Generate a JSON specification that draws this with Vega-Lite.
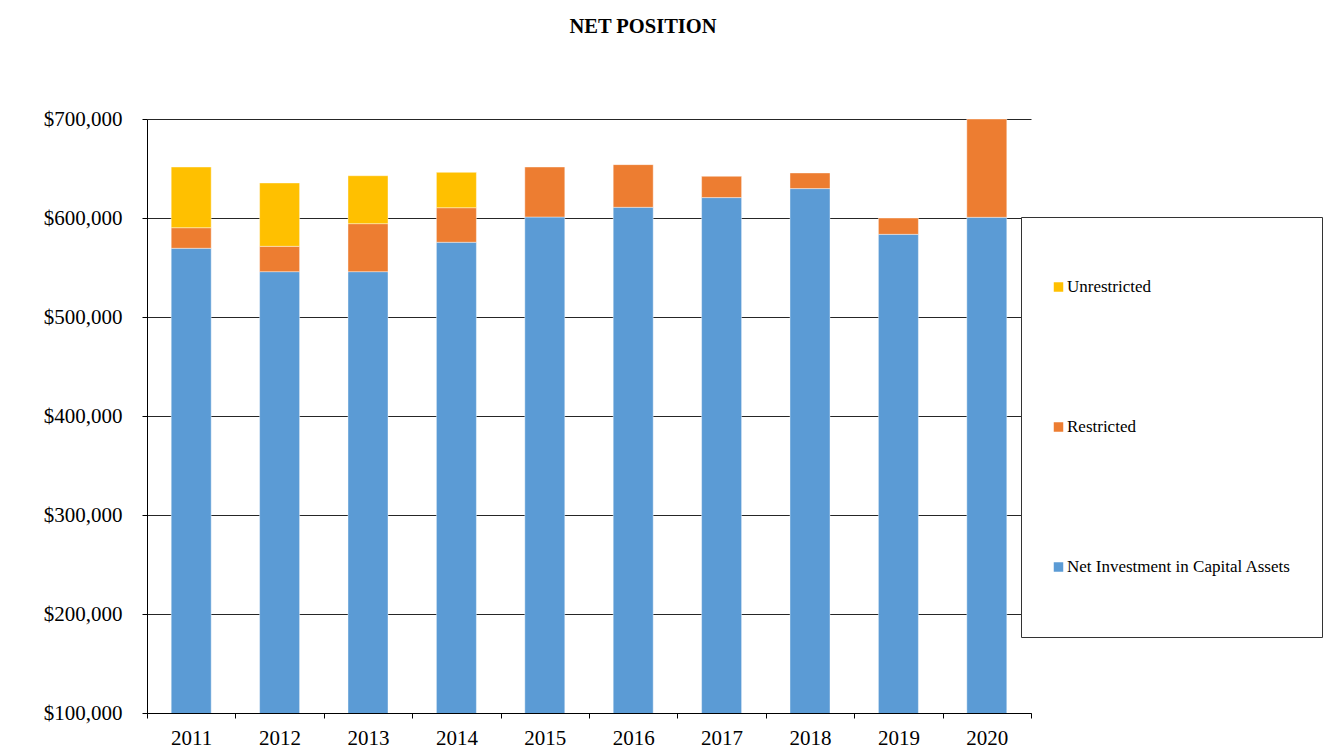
{
  "$schema": "https://vega.github.io/schema/vega-lite/v6.json",
  "width": 884,
  "height": 594,
  "autosize": {"type": "none"},
  "padding": {"left": 147, "top": 119, "right": 295, "bottom": 37},
  "background": "white",
  "title": {
    "text": "NET POSITION",
    "font": "Liberation Serif",
    "fontSize": 20.5,
    "fontWeight": "bold",
    "color": "black",
    "anchor": "middle",
    "frame": "group",
    "baseline": "middle",
    "offset": 61,
    "dx": 54
  },
  "data": {
    "values": [
      {"year": "2011", "category": "Net Investment in Capital Assets", "value": 569400},
      {"year": "2011", "category": "Restricted", "value": 20800},
      {"year": "2011", "category": "Unrestricted", "value": 61300},
      {"year": "2012", "category": "Net Investment in Capital Assets", "value": 545800},
      {"year": "2012", "category": "Restricted", "value": 25600},
      {"year": "2012", "category": "Unrestricted", "value": 64000},
      {"year": "2013", "category": "Net Investment in Capital Assets", "value": 545800},
      {"year": "2013", "category": "Restricted", "value": 48500},
      {"year": "2013", "category": "Unrestricted", "value": 48400},
      {"year": "2014", "category": "Net Investment in Capital Assets", "value": 575500},
      {"year": "2014", "category": "Restricted", "value": 34900},
      {"year": "2014", "category": "Unrestricted", "value": 35700},
      {"year": "2015", "category": "Net Investment in Capital Assets", "value": 601000},
      {"year": "2015", "category": "Restricted", "value": 50500},
      {"year": "2016", "category": "Net Investment in Capital Assets", "value": 610800},
      {"year": "2016", "category": "Restricted", "value": 43100},
      {"year": "2017", "category": "Net Investment in Capital Assets", "value": 620600},
      {"year": "2017", "category": "Restricted", "value": 21500},
      {"year": "2018", "category": "Net Investment in Capital Assets", "value": 629700},
      {"year": "2018", "category": "Restricted", "value": 15800},
      {"year": "2019", "category": "Net Investment in Capital Assets", "value": 583500},
      {"year": "2019", "category": "Restricted", "value": 16500},
      {"year": "2020", "category": "Net Investment in Capital Assets", "value": 600700},
      {"year": "2020", "category": "Restricted", "value": 99300}
    ]
  },
  "mark": {"type": "bar", "clip": true, "width": {"band": 0.4525}, "stroke": "white", "strokeWidth": 0.6, "strokeOpacity": 0.7},
  "encoding": {
    "x": {
      "field": "year",
      "type": "ordinal",
      "title": null,
      "scale": {"paddingInner": 0, "paddingOuter": 0},
      "axis": {
        "labelAngle": 0,
        "tickBand": "extent",
        "tickSize": 5,
        "labelPadding": 9,
        "grid": false
      }
    },
    "y": {
      "field": "value",
      "type": "quantitative",
      "stack": "zero",
      "title": null,
      "scale": {"domain": [100000, 700000], "nice": false, "zero": false},
      "axis": {
        "values": [100000, 200000, 300000, 400000, 500000, 600000, 700000],
        "format": "$,.0f",
        "grid": true,
        "tickSize": 5,
        "labelPadding": 20
      }
    },
    "color": {
      "field": "category",
      "type": "nominal",
      "scale": {
        "domain": ["Unrestricted", "Restricted", "Net Investment in Capital Assets"],
        "range": ["#FFC000", "#ED7D31", "#5B9BD5"]
      },
      "legend": {
        "title": null,
        "orient": "none",
        "legendX": 874,
        "legendY": 98,
        "direction": "vertical",
        "fillColor": "white",
        "strokeColor": "#333333",
        "padding": 31,
        "clipHeight": 78,
        "rowPadding": 62,
        "symbolType": "square",
        "symbolSize": 90,
        "symbolStrokeWidth": 0,
        "symbolOffset": -2,
        "labelOffset": 0,
        "labelFont": "Liberation Serif",
        "labelFontSize": 17,
        "labelColor": "black",
        "labelLimit": 400
      }
    },
    "order": {"field": "category", "sort": "ascending"}
  },
  "config": {
    "view": {"stroke": null},
    "axis": {
      "labelFont": "Liberation Serif",
      "labelFontSize": 21,
      "labelColor": "black",
      "domainColor": "black",
      "domainWidth": 1,
      "tickColor": "black",
      "gridColor": "#262626",
      "gridWidth": 1
    }
  }
}
